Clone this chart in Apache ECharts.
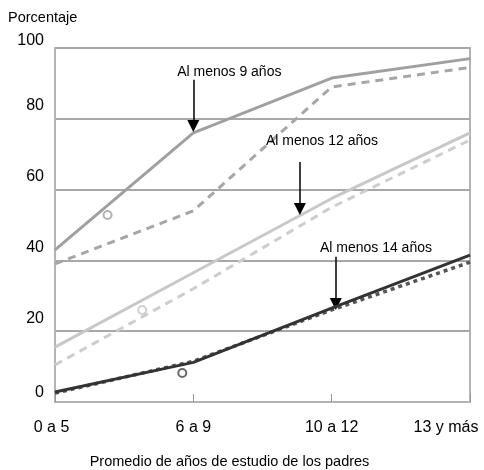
<!DOCTYPE html>
<html><head><meta charset="utf-8">
<script src="https://cdn.jsdelivr.net/npm/echarts@6/dist/echarts.min.js"></script>
<style>html,body{margin:0;padding:0;background:#fff}#c{width:484px;height:470px}</style>
</head><body><div id="c"></div>
<script>
const categories = ['0 a 5', '6 a 9', '10 a 12', '13 y más'];
const yTicks = [0, 20, 40, 60, 80, 100];
const min9Solid = [43, 76, 91.5, 97];
const min9Dashed = [39, 54, 89, 94.5];
const min12Solid = [15.5, 36.5, 57.5, 76];
const min12Dashed = [10.5, 32, 55, 74];
const min14Solid = [2.8, 11.2, 26.5, 41.5];
const min14Dashed = [2.5, 11.5, 26, 39.5];
const hollowMarkers = [[0.38, 52.8], [0.63, 26], [0.92, 8.2]];
const annotationTexts = ['Al menos 9 años', 'Al menos 12 años', 'Al menos 14 años'];
const annotationAnchors = [[1.26, 93.2], [1.93, 73.7], [2.32, 43.5]];
const arrowFrom = [[1, 91], [1.77, 67.8], [2.03, 41]];
const arrowTo = [[1, 78], [1.77, 54.5], [2.03, 27.7]];

const FONT = 'Liberation Sans, Arial, sans-serif';
const toXY = arr => arr.map((v, i) => [i, v]);
const markerColors = ['#a0a0a0', '#c4c4c4', '#444'];

function line(vals, color, type, width, z) {
  return {
    type: 'line', data: toXY(vals), symbol: 'none', silent: true, z: z,
    lineStyle: { color: color, width: width, type: type }
  };
}

const chart = echarts.init(document.getElementById('c'), null, { renderer: 'canvas' });
const series = [
  line(min12Dashed, '#cdcdcd', [8, 6], 3, 2),
  line(min12Solid, '#c8c8c8', 'solid', 3, 2),
  line(min9Dashed, '#a6a6a6', [8, 6], 3, 3),
  line(min9Solid, '#a0a0a0', 'solid', 3, 3),
  line(min14Dashed, '#555', [4, 4], 3.5, 4),
  line(min14Solid, '#333', 'solid', 3, 5),
  {
    type: 'scatter', silent: true, z: 6,
    data: hollowMarkers.map((p, i) => ({ value: p, itemStyle: { borderColor: markerColors[i] } })),
    symbol: 'circle', symbolSize: 8,
    itemStyle: { color: '#fff', borderWidth: 2 }
  },
  {
    type: 'scatter', data: [[0, -10]], symbolSize: 0, silent: true, z: 7,
    markPoint: {
      silent: true, symbol: 'circle', symbolSize: 0, animation: false,
      label: { show: true, position: 'inside', color: '#000', fontSize: 14, fontFamily: FONT, formatter: p => p.name },
      data: annotationAnchors.map((c, i) => ({ coord: c, name: annotationTexts[i] }))
    },
    markLine: {
      silent: true, animation: false, symbol: ['none', 'triangle'], symbolSize: 12,
      label: { show: false },
      itemStyle: { color: '#000' },
      lineStyle: { color: '#000', width: 1.5, type: 'solid' },
      data: arrowFrom.map((f, i) => [
        { coord: f, symbol: 'none' },
        { coord: arrowTo[i], symbol: 'triangle', symbolSize: 12 }
      ])
    }
  }
];

chart.setOption({
  animation: false,
  backgroundColor: '#fff',
  title: {
    text: 'Porcentaje', left: 3, top: 5,
    textStyle: { fontSize: 14.5, fontWeight: 'normal', color: '#000', fontFamily: FONT }
  },
  grid: {
    left: 55, right: 14, top: 48, bottom: 68, show: true, borderColor: '#b4b4b4', borderWidth: 2,
    containLabel: false, outerBoundsMode: 'none'
  },
  xAxis: {
    type: 'value', min: 0, max: categories.length - 1, interval: 1,
    name: 'Promedio de años de estudio de los padres', nameLocation: 'middle', nameGap: 52,
    nameTextStyle: { fontSize: 14.5, color: '#000', fontFamily: FONT, padding: [0, 66, 0, 0] },
    axisLine: { lineStyle: { color: '#b4b4b4', width: 2 } },
    axisTick: { inside: true, length: 8, lineStyle: { color: '#999' } },
    splitLine: { show: false },
    axisLabel: {
      margin: 18, color: '#000', fontSize: 16, fontFamily: FONT,
      formatter: v => {
        const t = categories[Math.round(v)];
        if (v === 0) return '{first|' + t + '}';
        if (v === categories.length - 1) return '{last|' + t + '}';
        return t;
      },
      rich: {
        first: { fontSize: 16, fontFamily: FONT, color: '#000', padding: [0, 7, 0, 0] },
        last: { fontSize: 16, fontFamily: FONT, color: '#000', padding: [0, 48, 0, 0] }
      }
    }
  },
  yAxis: {
    type: 'value', min: yTicks[0], max: yTicks[yTicks.length - 1], interval: 20,
    axisLine: { show: true, lineStyle: { color: '#b4b4b4', width: 2 } },
    axisTick: { show: false },
    splitLine: { lineStyle: { color: '#a8a8a8', width: 2 } },
    axisLabel: {
      margin: 11, color: '#000', fontSize: 16, fontFamily: FONT, verticalAlign: 'bottom', lineHeight: 26,
      formatter: v => v === yTicks[yTicks.length - 1] ? '{top|' + v + '}' : (v === yTicks[0] ? '{zero|' + v + '}' : String(v)),
      rich: {
        top: { fontSize: 16, fontFamily: FONT, color: '#000', lineHeight: 14 },
        zero: { fontSize: 16, fontFamily: FONT, color: '#000', lineHeight: 19 }
      }
    }
  },
  series: series
});
</script></body></html>
